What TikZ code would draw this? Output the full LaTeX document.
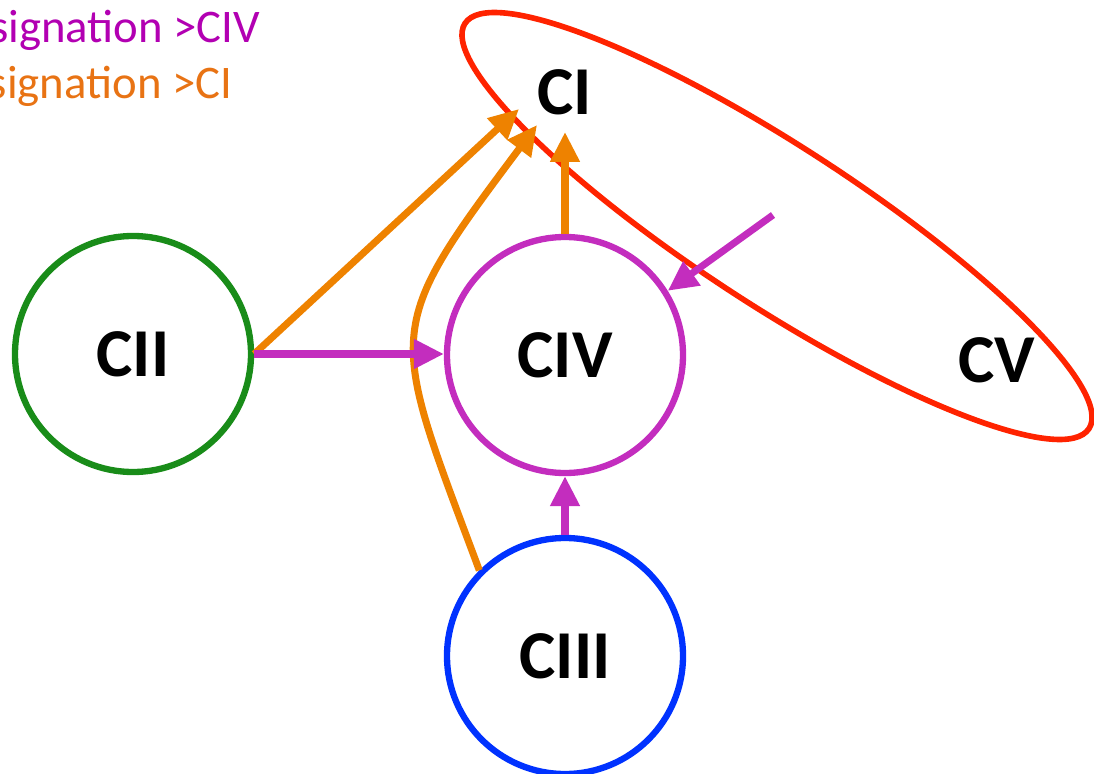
\documentclass[tikz,border=0pt]{standalone}
\usepackage{fontspec}
\setmainfont{Carlito}
\usetikzlibrary{arrows.meta,positioning,shapes}
\definecolor{sigorange}{RGB}{238,130,0}
\definecolor{sigmagenta}{RGB}{195,45,190}
\definecolor{legmagenta}{RGB}{178,0,178}
\definecolor{legorange}{RGB}{232,115,20}
\definecolor{grpred}{RGB}{255,35,0}
\definecolor{ciigreen}{RGB}{25,140,25}
\definecolor{ciiiblue}{RGB}{0,50,255}
\tikzset{
  % complexes
  cplx/.style={
    circle,
    line width=1.8pt,
    minimum size=2.36cm,
    inner sep=0pt,
    font=\fontsize{19.5}{24}\selectfont\bfseries
  },
  lab/.style={font=\fontsize{19.5}{24}\selectfont\bfseries},
  % legend
  leg/.style={inner sep=0pt, anchor=base east, font=\fontsize{13.3}{16}\selectfont},
  % arrows
  oarr/.style={-{Triangle[length=8.5pt,width=8pt]}, line width=2pt, sigorange},
  marr/.style={-{Triangle[length=8.5pt,width=8pt]}, line width=2pt, sigmagenta},
}
\begin{document}
\begin{tikzpicture}
    \useasboundingbox (0,0) rectangle (10.94,7.73);

    % Legend
    \node[leg, text=legmagenta] (legciv) at (2.61,7.30) {signation >CIV};
    \node[leg, text=legorange] (legci) at (2.33,6.74) {signation >CI};

    % Group CI + CV
    \draw[grpred, line width=1.6pt, rotate around={-33:(7.77,5.47)}]
        (7.77,5.47) ellipse [x radius=3.72cm, y radius=0.80cm];

    % Complexes
    \node[cplx, draw=ciigreen] (cii) at (1.33,4.19) {CII};
    \node[cplx, draw=sigmagenta] (civ) at (5.65,4.18) {CIV};
    \node[cplx, draw=ciiiblue] (ciii) at (5.65,1.17) {CIII};
    \node[lab] (ci) at (5.65,6.81) {CI};
    \node[lab] (cv) at (9.97,4.13) {CV};

    % Arrow ends
    \coordinate (ciin1) at (5.19,6.64);
    \coordinate (ciin2) at (5.37,6.48);
    \coordinate (ciin3) at (5.65,6.41);
    \coordinate (cvsrc) at (7.73,5.58);

    % Signals >CI
    \draw[oarr] (cii.east) -- (ciin1);
    \draw[oarr] (ciii.135) .. controls (3.89,4.45) and (3.81,4.40) .. (ciin2);
    \draw[oarr] (civ.north) -- (ciin3);

    % Signals >CIV
    \draw[marr] (cii.east) -- (cii.east -| civ.west);
    \draw[marr] (cvsrc) -- (civ.32);
    \draw[marr] (ciii.north) -- (civ.south);
\end{tikzpicture}
\end{document}
